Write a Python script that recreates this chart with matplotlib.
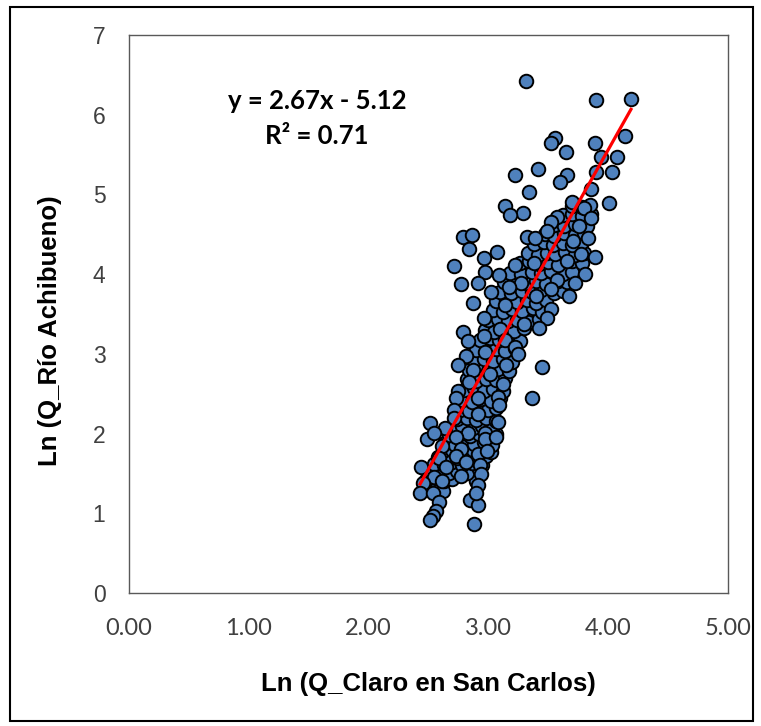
import matplotlib
matplotlib.use("Agg")
import matplotlib.pyplot as plt
from matplotlib.patches import Rectangle
import numpy as np

# Ln(Q_Claro en San Carlos) vs Ln(Q_Rio Achibueno)
# scattered points around the edge of the cloud
edge_x = [3.31, 3.90, 4.19, 4.14, 3.89, 3.56, 3.52, 3.65, 3.94, 4.07, 3.41, 3.22, 3.66, 3.60,
          3.90, 4.03, 3.34, 3.86, 3.14, 3.29, 3.18, 4.01, 3.70, 3.80, 3.86, 3.76, 3.57, 3.52,
          3.49, 3.32, 3.39, 3.83, 3.71, 2.79, 2.86, 2.84, 2.96, 3.07, 3.22, 2.71, 3.89, 3.66,
          3.77, 3.38, 2.97, 3.09, 2.77, 2.91, 3.81, 3.72, 3.67, 3.57, 3.52, 3.27, 3.17, 3.02,
          2.87, 3.14, 3.40, 3.52, 3.49, 3.42, 2.96, 3.30, 3.10, 2.79, 2.83, 2.96, 3.14, 3.22,
          2.97, 2.81, 3.25, 2.75, 3.15, 3.45, 2.87, 3.01, 3.12, 2.84, 2.75, 3.36, 2.91, 3.08,
          2.73, 3.09, 2.71, 2.91, 2.51, 2.71, 2.64, 2.83, 3.08, 2.97, 2.49, 2.55, 2.73, 2.97,
          3.06, 2.61, 2.77, 2.91, 2.99, 2.73, 2.44, 2.59, 2.81, 2.93, 2.65, 2.55, 2.77, 2.94,
          2.45, 2.61, 2.43, 2.54, 2.91, 2.59, 2.85, 2.91, 2.56, 2.54, 2.51, 2.88, 2.90]
edge_y = [6.42, 6.18, 6.20, 5.73, 5.64, 5.71, 5.65, 5.53, 5.47, 5.47, 5.32, 5.25, 5.25, 5.15,
          5.28, 5.28, 5.03, 5.07, 4.86, 4.77, 4.74, 4.89, 4.90, 4.83, 4.71, 4.61, 4.72, 4.65,
          4.54, 4.47, 4.45, 4.45, 4.42, 4.47, 4.49, 4.31, 4.20, 4.28, 4.12, 4.10, 4.21, 4.17,
          4.25, 4.14, 4.03, 3.99, 3.88, 3.89, 4.00, 3.89, 3.73, 3.93, 3.81, 3.89, 3.84, 3.78,
          3.64, 3.61, 3.73, 3.56, 3.45, 3.32, 3.45, 3.38, 3.31, 3.27, 3.16, 3.23, 3.17, 3.08,
          3.02, 2.97, 3.00, 2.86, 2.86, 2.83, 2.80, 2.75, 2.62, 2.65, 2.54, 2.45, 2.45, 2.46,
          2.45, 2.36, 2.30, 2.25, 2.13, 2.19, 2.07, 2.01, 2.15, 2.01, 1.93, 2.01, 1.96, 1.93,
          1.96, 1.84, 1.81, 1.75, 1.78, 1.72, 1.58, 1.69, 1.64, 1.61, 1.58, 1.46, 1.47, 1.49,
          1.38, 1.40, 1.26, 1.26, 1.35, 1.14, 1.17, 1.11, 1.03, 0.97, 0.91, 0.87, 1.25]

# dense band of overlapping points along the trend
core_x = [2.50, 2.57, 2.62,
          2.48, 2.56, 2.63, 2.70, 2.90,
          2.52, 2.60, 2.67, 2.74, 2.82, 2.92,
          2.55, 2.63, 2.70, 2.78, 2.86, 2.95,
          2.58, 2.66, 2.74, 2.83, 2.90, 2.98,
          2.62, 2.70, 2.78, 2.87, 2.95, 3.02,
          2.64, 2.72, 2.80, 2.88, 2.96, 3.03,
          2.67, 2.76, 2.85, 2.92, 3.00, 3.06,
          2.70, 2.78, 2.87, 2.95, 3.03,
          2.74, 2.82, 2.90, 2.98, 3.06,
          2.76, 2.84, 2.92, 3.00, 3.06,
          2.78, 2.86, 2.94, 3.02, 3.10,
          2.80, 2.88, 2.96, 3.04, 3.12,
          2.82, 2.90, 2.98, 3.06, 3.14,
          2.84, 2.92, 3.00, 3.08, 3.17,
          2.88, 2.96, 3.04, 3.12, 3.20,
          2.90, 2.98, 3.06, 3.14, 3.22,
          2.93, 3.01, 3.09, 3.17, 3.26,
          2.97, 3.05, 3.13, 3.21, 3.30,
          3.00, 3.08, 3.16, 3.24, 3.33, 3.42,
          3.04, 3.12, 3.20, 3.28, 3.37, 3.45,
          3.06, 3.15, 3.24, 3.32, 3.40, 3.48,
          3.10, 3.19, 3.28, 3.36, 3.44, 3.55, 3.62,
          3.13, 3.22, 3.31, 3.40, 3.48, 3.58, 3.66,
          3.18, 3.27, 3.36, 3.44, 3.52, 3.62, 3.70,
          3.26, 3.34, 3.42, 3.50, 3.58, 3.70, 3.78,
          3.33, 3.41, 3.49, 3.56, 3.64, 3.72, 3.80,
          3.38, 3.46, 3.54, 3.62, 3.70, 3.78,
          3.47, 3.55, 3.63, 3.72, 3.80,
          3.55, 3.63, 3.72, 3.82,
          3.62, 3.70, 3.78, 3.86,
          3.70, 3.78, 3.85]
core_y = [1.30, 1.33, 1.28,
          1.42, 1.44, 1.40, 1.43, 1.41,
          1.52, 1.54, 1.50, 1.53, 1.51, 1.55,
          1.62, 1.60, 1.64, 1.61, 1.63, 1.60,
          1.70, 1.72, 1.69, 1.71, 1.68, 1.72,
          1.78, 1.80, 1.77, 1.79, 1.81, 1.77,
          1.88, 1.86, 1.90, 1.87, 1.89, 1.86,
          1.98, 2.00, 1.97, 1.99, 1.96, 2.00,
          2.08, 2.10, 2.07, 2.09, 2.06,
          2.18, 2.20, 2.17, 2.19, 2.16,
          2.30, 2.28, 2.31, 2.29, 2.32,
          2.42, 2.40, 2.43, 2.41, 2.44,
          2.55, 2.57, 2.53, 2.56, 2.54,
          2.68, 2.66, 2.69, 2.67, 2.70,
          2.80, 2.82, 2.78, 2.81, 2.79,
          2.92, 2.94, 2.91, 2.93, 2.90,
          3.05, 3.03, 3.06, 3.04, 3.07,
          3.18, 3.20, 3.17, 3.19, 3.16,
          3.30, 3.28, 3.31, 3.29, 3.32,
          3.42, 3.44, 3.41, 3.43, 3.40, 3.44,
          3.55, 3.53, 3.56, 3.54, 3.57, 3.53,
          3.66, 3.68, 3.65, 3.67, 3.64, 3.68,
          3.78, 3.76, 3.79, 3.77, 3.80, 3.76, 3.79,
          3.90, 3.92, 3.89, 3.91, 3.88, 3.92, 3.90,
          4.02, 4.00, 4.03, 4.01, 4.04, 4.00, 4.03,
          4.14, 4.16, 4.13, 4.15, 4.12, 4.16, 4.14,
          4.26, 4.24, 4.27, 4.25, 4.28, 4.24, 4.27,
          4.38, 4.40, 4.37, 4.39, 4.36, 4.40,
          4.50, 4.48, 4.51, 4.49, 4.52,
          4.62, 4.60, 4.63, 4.61,
          4.74, 4.76, 4.73, 4.75,
          4.86, 4.84, 4.87]

# Excel linear trendline
slope = 2.67
intercept = -5.12
r2 = 0.71

x_all = np.array(core_x + edge_x)
y_all = np.array(core_y + edge_y)

fig = plt.figure(figsize=(7.61, 7.26), dpi=100)
ax = fig.add_axes([129 / 761, 133 / 726, 599 / 761, 558 / 726])

ax.scatter(x_all, y_all, s=95, facecolor='#4f81bd', edgecolor='black',
           linewidth=1.4, zorder=3)

xl = np.array([x_all.min(), x_all.max()])
ax.plot(xl, slope * xl + intercept, color='red', lw=2.3, zorder=4)

ax.set_xlim(0, 5)
ax.set_ylim(0, 7)
ax.set_xticks(np.arange(0, 6, 1))
ax.set_xticklabels([f"{v:.2f}" for v in range(6)], fontfamily='Lato', fontsize=17)
ax.set_yticks(range(8))
ax.set_yticklabels([str(v) for v in range(8)], fontfamily='Liberation Sans', fontsize=16.5)
ax.tick_params(axis='x', length=0, pad=18, colors='#404040')
ax.tick_params(axis='y', length=0, pad=17, colors='#404040')
for sp in ax.spines.values():
    sp.set_color('#595959')
    sp.set_linewidth(1.0)

ax.set_xlabel('Ln (Q_Claro en San Carlos)', fontfamily='Liberation Sans',
              fontsize=18.5, fontweight='bold', labelpad=24)
ax.set_ylabel('Ln (Q_Río Achibueno)', fontfamily='Liberation Sans',
              fontsize=18.5, fontweight='bold')
ax.yaxis.set_label_coords(-0.112, 0.47)

ax.text(1.57, 6.17, f"y = {slope:.2f}x - {abs(intercept):.2f}", ha='center', va='center',
        fontfamily='Lato', fontweight='bold', fontsize=18.5)
ax.text(1.57, 5.73, f"R² = {r2:.2f}", ha='center', va='center',
        fontfamily='Lato', fontweight='bold', fontsize=18.5)

# outer chart border
fig.patches.append(Rectangle((10 / 761, 5 / 726), 743 / 761, 714 / 726,
                             transform=fig.transFigure, fill=False,
                             edgecolor='black', linewidth=1.5))

fig.savefig('out.png', dpi=100)
